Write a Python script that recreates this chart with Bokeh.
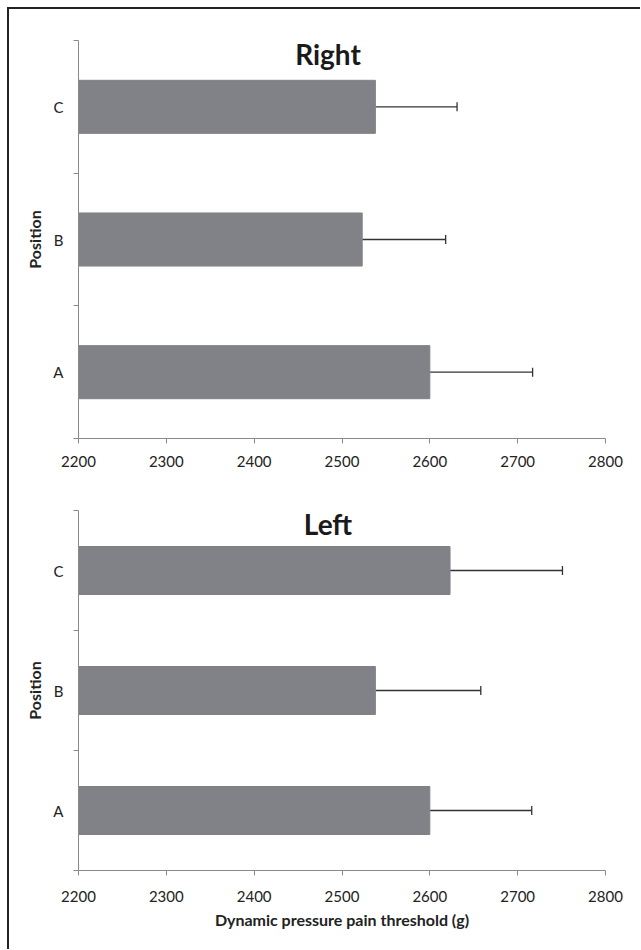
from bokeh.plotting import figure
from bokeh.layouts import column
from bokeh.models import FixedTicker, Whisker, TeeHead, ColumnDataSource, Label
from bokeh.embed import file_html
from bokeh.resources import INLINE

positions = ["A", "B", "C"]
right_means = [2600, 2523, 2538]
right_err = [117, 95, 93]
left_means = [2600, 2538, 2623]
left_err = [116, 120, 128]
x_ticks = [2200, 2300, 2400, 2500, 2600, 2700, 2800]
x_title = "Dynamic pressure pain threshold (g)"
y_title = "Position"

FONT = "Lato"
BAR = "#818287"
AX = "#8a8a8a"
TXT = "#222222"


def panel(title, means, errs, width, height, top, bottom, xlabel, lab_standoff):
    ys = list(range(len(positions)))
    p = figure(width=width, height=height, output_backend="svg", toolbar_location=None,
               x_range=(x_ticks[0], x_ticks[-1]), y_range=(-0.5, len(positions) - 0.5),
               min_border_left=69, min_border_right=27, min_border_top=top,
               min_border_bottom=bottom)
    p.outline_line_color = None
    p.grid.visible = False
    p.background_fill_color = "white"
    p.border_fill_color = "white"

    src = ColumnDataSource(dict(y=ys, m=means, lo=[x_ticks[0]] * len(means),
                                up=[a + b for a, b in zip(means, errs)]))
    p.hbar(y="y", left="lo", right="m", height=0.4, source=src,
           fill_color=BAR, line_color=BAR)
    w = Whisker(base="y", lower="m", upper="up", dimension="width", source=src,
                line_color="#333333", line_width=1.3, lower_head=None,
                upper_head=TeeHead(size=9, line_color="#333333", line_width=1.3))
    p.add_layout(w)

    xa = p.xaxis[0]
    xa.ticker = FixedTicker(ticks=x_ticks)
    xa.axis_line_color = AX
    xa.major_tick_line_color = AX
    xa.major_tick_out = 5
    xa.major_tick_in = 0
    xa.minor_tick_line_color = None
    xa.major_label_text_font = FONT
    xa.major_label_text_font_size = "15px"
    xa.major_label_text_color = TXT
    xa.major_label_standoff = lab_standoff
    if xlabel:
        xa.axis_label = x_title
        xa.axis_label_text_font = FONT
        xa.axis_label_text_font_style = "bold"
        xa.axis_label_text_font_size = "16px"
        xa.axis_label_text_color = TXT
        xa.axis_label_standoff = 5

    ya = p.yaxis[0]
    ya.ticker = FixedTicker(ticks=ys, minor_ticks=[y - 0.5 for y in ys] + [ys[-1] + 0.5])
    ya.major_label_overrides = {y: lab for y, lab in zip(ys, positions)}
    ya.axis_line_color = AX
    ya.major_tick_line_color = None
    ya.major_tick_out = 0
    ya.major_tick_in = 0
    ya.minor_tick_line_color = AX
    ya.minor_tick_out = 5
    ya.minor_tick_in = 0
    ya.major_label_text_font = FONT
    ya.major_label_text_font_size = "15px"
    ya.major_label_text_color = TXT
    ya.major_label_standoff = 10
    ya.axis_label = y_title
    ya.axis_label_text_font = FONT
    ya.axis_label_text_font_style = "bold"
    ya.axis_label_text_font_size = "16px"
    ya.axis_label_text_color = TXT
    ya.axis_label_standoff = 6

    lab = Label(x=(x_ticks[0] + x_ticks[-1]) / 2, y=len(positions) - 0.5, text=title,
                x_offset=-14, y_offset=-13, text_align="center", text_baseline="middle",
                text_font=FONT, text_font_style="bold", text_font_size="28px",
                text_color="#1a1a1a")
    p.add_layout(lab)
    return p


p1 = panel("Right", right_means, right_err, 623, 475, 31, 46, False, 12)
p2 = panel("Left", left_means, left_err, 623, 455, 26, 69, True, 15)

layout = column(p1, p2, spacing=0,
                styles={"border-top": "2px solid #222222", "border-left": "2px solid #222222",
                        "margin-left": "7px", "margin-top": "7px",
                        "padding-bottom": "10px", "padding-right": "8px"})

open("out.html", "w").write(file_html(layout, INLINE))
